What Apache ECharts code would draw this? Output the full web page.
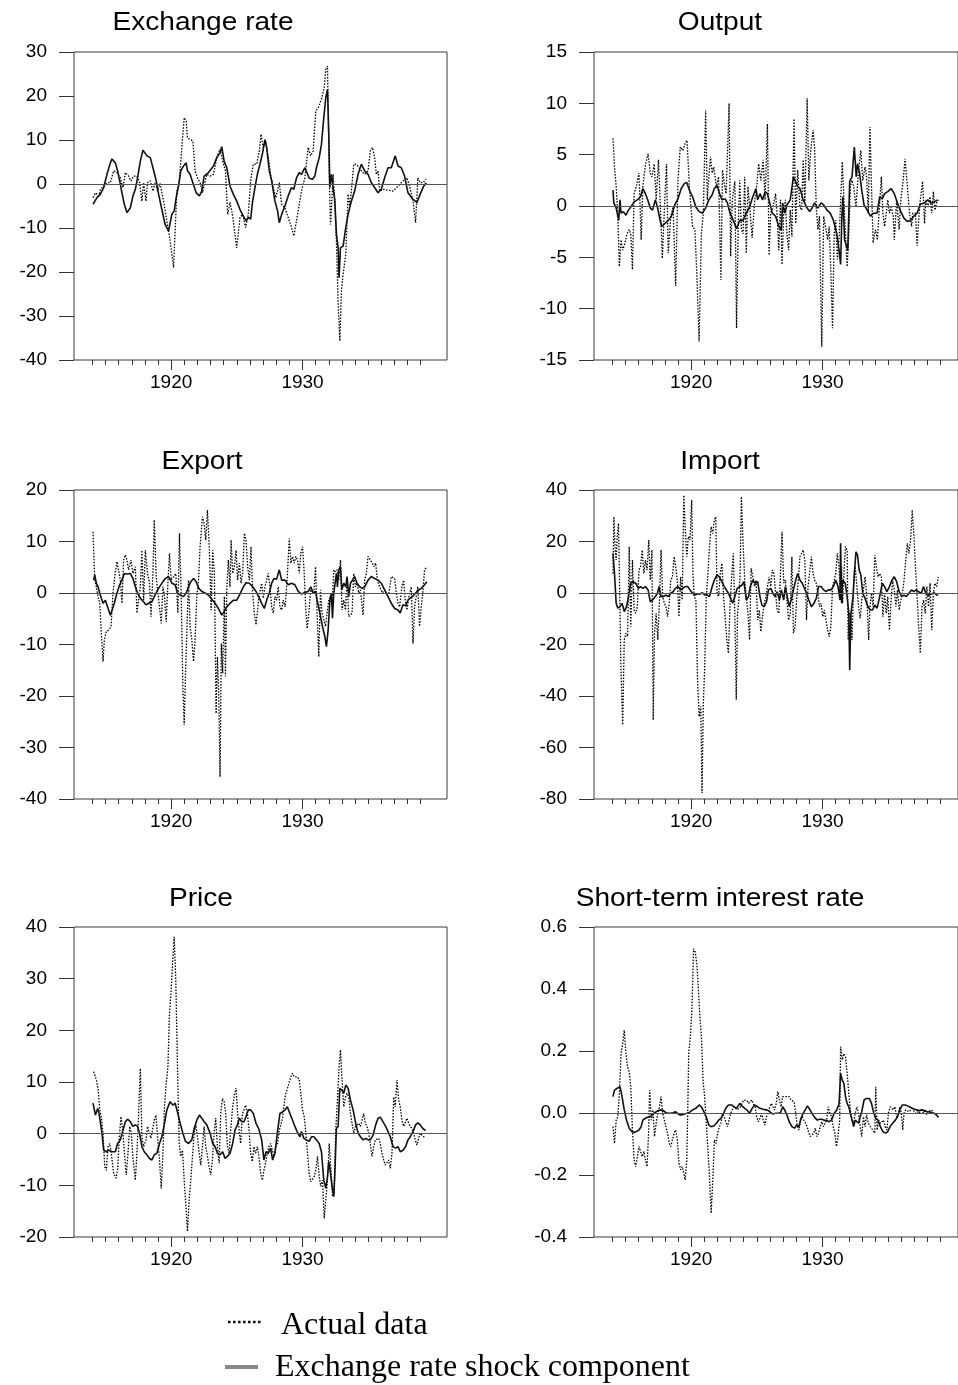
<!DOCTYPE html>
<html>
<head>
<meta charset="utf-8">
<title>Actual data and exchange rate shock component</title>
<script src="https://cdn.jsdelivr.net/npm/echarts@6/dist/echarts.min.js"></script>
<style>
  html, body { margin: 0; padding: 0; background: #fff; }
  #chart { width: 958px; height: 1385px; }
</style>
</head>
<body>
<div id="chart"></div>
<script>
// ---- Exchange rate ----
var erActual = [[1914.05,-3.1],[1914.23,-2.0],[1914.48,-2.7],[1914.61,-1.2],[1914.86,-0.5],[1915.11,0.3],[1915.37,0.3],[1915.62,3.0],[1915.87,2.6],[1916.13,1.4],[1916.33,-0.8],[1916.51,2.6],[1916.76,1.8],[1916.94,0.7],[1917.14,1.8],[1917.39,1.8],[1917.59,0.3],[1917.77,-3.9],[1917.90,0.3],[1918.08,-3.9],[1918.20,0.3],[1918.41,0.7],[1918.61,-1.6],[1918.78,0.3],[1918.96,-1.6],[1919.16,0.1],[1919.42,-3.9],[1919.67,-8.4],[1919.92,-12.9],[1920.18,-19.0],[1920.43,-1.6],[1920.61,0.3],[1920.81,8.3],[1920.99,15.1],[1921.14,14.3],[1921.24,10.5],[1921.44,10.1],[1921.65,9.8],[1921.82,3.0],[1922.00,1.4],[1922.20,0.3],[1922.38,-2.0],[1922.51,-1.6],[1922.71,2.2],[1922.96,1.8],[1923.22,2.2],[1923.47,6.0],[1923.72,7.9],[1923.92,5.2],[1924.13,3.0],[1924.30,-6.9],[1924.48,-4.2],[1924.66,-6.9],[1924.99,-14.5],[1925.24,-7.6],[1925.44,-6.9],[1925.67,-9.9],[1925.87,-6.9],[1926.05,0.7],[1926.25,4.5],[1926.51,4.5],[1926.71,7.5],[1926.84,11.3],[1927.01,8.3],[1927.19,9.8],[1927.39,6.0],[1927.57,2.2],[1927.77,-0.8],[1927.97,-3.1],[1928.23,0.3],[1928.41,-4.6],[1928.66,-5.4],[1928.91,-7.6],[1929.16,-9.9],[1929.34,-11.8],[1929.54,-8.4],[1929.75,-4.6],[1929.92,-1.6],[1930.18,1.4],[1930.43,8.3],[1930.61,6.4],[1930.81,7.5],[1931.01,16.6],[1931.19,17.3],[1931.44,19.2],[1931.65,21.9],[1931.77,26.0],[1931.90,26.8],[1932.03,2.2],[1932.13,-9.2],[1932.23,-3.9],[1932.33,2.2],[1932.46,-3.9],[1932.58,-12.9],[1932.71,-27.0],[1932.84,-35.7],[1932.96,-24.3],[1933.09,-20.5],[1933.29,-16.0],[1933.47,-2.3],[1933.59,-5.0],[1933.72,-1.6],[1933.90,4.5],[1934.10,4.5],[1934.30,3.7],[1934.48,3.0],[1934.73,2.2],[1934.99,3.0],[1935.16,7.5],[1935.32,8.3],[1935.49,6.0],[1935.62,2.2],[1935.75,3.0],[1935.87,-1.6],[1936.13,-1.2],[1936.51,-1.4],[1936.89,-1.6],[1937.27,-0.5],[1937.65,0.7],[1937.95,1.4],[1938.15,-0.5],[1938.41,-3.9],[1938.61,-8.8],[1938.78,1.4],[1938.96,0.3],[1939.16,0.3],[1939.42,1.1]];
var erShock = [[1914.05,-4.6],[1914.35,-3.1],[1914.61,-2.3],[1914.86,-0.8],[1915.11,2.2],[1915.37,4.8],[1915.49,5.7],[1915.75,4.8],[1915.92,3.0],[1916.08,0.7],[1916.25,-2.0],[1916.43,-4.6],[1916.63,-6.5],[1916.89,-5.4],[1917.09,-2.7],[1917.27,-1.2],[1917.44,1.4],[1917.65,5.2],[1917.85,7.7],[1918.15,6.4],[1918.41,6.0],[1918.61,3.7],[1918.86,0.7],[1919.04,-2.3],[1919.29,-5.8],[1919.54,-9.2],[1919.80,-10.7],[1920.05,-6.9],[1920.23,-6.1],[1920.38,-3.1],[1920.56,-0.5],[1920.73,3.0],[1920.94,4.1],[1921.14,4.8],[1921.24,3.0],[1921.44,2.2],[1921.65,0.3],[1921.90,-2.0],[1922.15,-2.7],[1922.33,-1.6],[1922.51,1.8],[1922.84,2.6],[1923.22,4.1],[1923.47,6.0],[1923.72,7.1],[1923.85,8.5],[1924.03,5.2],[1924.23,3.7],[1924.48,-0.5],[1924.73,-2.3],[1924.99,-3.9],[1925.24,-5.8],[1925.49,-7.3],[1925.70,-8.4],[1925.87,-7.6],[1926.05,-8.0],[1926.20,-3.9],[1926.38,-0.8],[1926.56,2.2],[1926.76,4.5],[1926.96,7.1],[1927.14,10.1],[1927.27,8.3],[1927.47,3.0],[1927.65,0.7],[1927.90,-3.9],[1928.10,-6.1],[1928.23,-8.8],[1928.41,-6.9],[1928.66,-5.0],[1928.91,-2.7],[1929.16,-0.8],[1929.34,-1.2],[1929.54,1.4],[1929.75,2.6],[1929.92,2.2],[1930.18,3.7],[1930.30,4.1],[1930.51,1.3],[1930.76,1.1],[1930.94,1.8],[1931.06,3.7],[1931.27,6.0],[1931.44,9.0],[1931.62,15.1],[1931.77,19.6],[1931.90,21.5],[1932.00,11.3],[1932.08,-0.8],[1932.20,2.2],[1932.33,2.2],[1932.46,-3.9],[1932.58,-11.4],[1932.71,-14.5],[1932.78,-21.3],[1932.89,-14.5],[1933.09,-14.1],[1933.29,-9.9],[1933.47,-6.9],[1933.72,-3.9],[1933.97,-1.6],[1934.23,2.2],[1934.48,4.5],[1934.73,3.0],[1934.99,2.2],[1935.24,0.3],[1935.49,-0.8],[1935.75,-2.0],[1936.00,-1.2],[1936.25,1.4],[1936.51,3.7],[1936.76,3.7],[1937.06,6.4],[1937.27,4.1],[1937.52,3.7],[1937.77,1.8],[1938.03,-2.0],[1938.41,-3.5],[1938.71,-4.2],[1938.96,-2.3],[1939.22,-0.5],[1939.42,0.3]];

// ---- Output ----
var outActual = [[1914.08,6.6],[1914.20,3.8],[1914.33,1.9],[1914.46,-1],[1914.58,-5.9],[1914.71,-3.3],[1914.84,-4.3],[1915.02,-3.6],[1915.17,-2.7],[1915.35,-2.3],[1915.47,-2.7],[1915.60,-6.2],[1915.73,1.2],[1915.90,1.9],[1916.11,3.2],[1916.28,-3.3],[1916.41,1.9],[1916.61,4],[1916.82,5.1],[1916.99,3.2],[1917.12,2.85],[1917.30,4.1],[1917.45,0.6],[1917.63,4.5],[1917.76,0.6],[1917.93,-5.1],[1918.09,-0.4],[1918.26,4.1],[1918.39,-4.6],[1918.59,-1],[1918.77,-0.1],[1918.97,-7.8],[1919.15,2.5],[1919.33,5.75],[1919.53,5.4],[1919.71,6.1],[1919.86,6.4],[1920.04,1.9],[1920.29,-2],[1920.47,-2.3],[1920.62,-6.5],[1920.80,-13.2],[1920.98,-2.7],[1921.13,-0.7],[1921.31,9.3],[1921.44,0.6],[1921.56,2.85],[1921.69,4.8],[1921.82,3.2],[1921.94,3.8],[1922.15,1.9],[1922.32,2.85],[1922.50,-7.2],[1922.63,3.5],[1922.76,2.2],[1922.91,1.2],[1923.14,10],[1923.26,-4.9],[1923.39,0.6],[1923.59,2.4],[1923.72,-11.9],[1923.85,-2],[1923.97,2.5],[1924.10,-2.3],[1924.23,-2.7],[1924.36,2.85],[1924.48,-4.6],[1924.61,1.9],[1924.79,-0.7],[1924.94,-3.1],[1925.12,0.3],[1925.29,1.9],[1925.45,4.1],[1925.62,2.5],[1925.80,4.5],[1925.95,0.6],[1926.13,8],[1926.26,-4.8],[1926.39,-0.7],[1926.56,-0.1],[1926.77,1.2],[1926.89,-1],[1927.02,-4.3],[1927.15,0.6],[1927.27,-5.7],[1927.40,-0.7],[1927.53,0.6],[1927.65,-2.7],[1927.78,-4.3],[1927.91,-0.4],[1928.04,-3],[1928.21,8.5],[1928.34,-1.7],[1928.49,3.5],[1928.67,-0.1],[1928.80,-0.4],[1928.92,4.5],[1929.05,0.3],[1929.23,10.5],[1929.36,2.5],[1929.51,5.4],[1929.69,7.4],[1929.81,5.75],[1929.94,-0.1],[1930.07,-2.3],[1930.19,-1],[1930.37,-13.7],[1930.52,-1],[1930.70,-2.3],[1930.83,-3.3],[1930.95,-2],[1931.08,-6.5],[1931.21,-11.9],[1931.34,-2.7],[1931.46,-1.4],[1931.59,-5.2],[1931.72,-3.3],[1931.84,-3.3],[1931.97,4.3],[1932.10,0.6],[1932.22,-2.7],[1932.35,-5.9],[1932.48,-2.7],[1932.60,1.9],[1932.73,2.5],[1932.86,1.9],[1933.04,-0.1],[1933.24,3.5],[1933.42,5.4],[1933.57,2.5],[1933.75,3.8],[1933.87,2.85],[1934.00,-0.7],[1934.13,7.7],[1934.25,1.9],[1934.38,-3.6],[1934.56,-2.3],[1934.71,-3.3],[1934.84,-0.7],[1935.02,2.85],[1935.14,-0.7],[1935.27,-2],[1935.40,-0.7],[1935.52,0.6],[1935.65,-0.7],[1935.78,-0.1],[1935.95,-1],[1936.03,-3.3],[1936.21,0.6],[1936.41,-2.3],[1936.54,0.6],[1936.72,2.5],[1936.87,4.6],[1937.05,1.9],[1937.22,-0.7],[1937.38,-2],[1937.48,-0.7],[1937.68,-0.7],[1937.81,-3.9],[1937.93,-1.4],[1938.06,0.6],[1938.24,2.4],[1938.39,-1.7],[1938.49,0.6],[1938.64,-0.1],[1938.82,0.9],[1938.95,-0.7],[1939.08,1.4],[1939.20,-0.4],[1939.33,0.3],[1939.46,0.6]];
var outShock = [[1914.08,1.55],[1914.15,0.3],[1914.33,-0.2],[1914.53,-1.4],[1914.63,0.6],[1914.71,-0.7],[1914.89,-0.55],[1915.09,-0.9],[1915.29,-0.4],[1915.47,-0.1],[1915.73,0.4],[1915.98,0.6],[1916.23,0.9],[1916.41,1.7],[1916.61,1.2],[1916.79,0.6],[1916.99,-0.2],[1917.17,-0.4],[1917.38,0.6],[1917.55,-0.1],[1917.76,-1.4],[1917.88,-2.0],[1918.14,-1.7],[1918.39,-1.4],[1918.64,-1.0],[1918.90,0.1],[1919.15,0.7],[1919.41,1.7],[1919.66,2.2],[1919.84,2.3],[1920.04,1.55],[1920.29,0.9],[1920.55,-0.1],[1920.80,-0.55],[1921.06,-0.7],[1921.31,-0.2],[1921.56,0.6],[1921.82,1.1],[1921.99,1.7],[1922.20,2.0],[1922.40,1.2],[1922.58,0.6],[1922.83,0.7],[1923.01,0.3],[1923.21,-0.7],[1923.47,-1.4],[1923.72,-2.2],[1923.97,-1.4],[1924.23,-1.4],[1924.48,-0.7],[1924.74,-0.1],[1924.99,0.9],[1925.24,1.7],[1925.37,0.6],[1925.55,1.2],[1925.75,0.6],[1925.95,1.4],[1926.13,1.2],[1926.31,0.3],[1926.51,-0.7],[1926.77,-1.0],[1927.02,-2.0],[1927.22,-2.3],[1927.32,0.3],[1927.48,-0.7],[1927.65,0.1],[1927.91,0.6],[1928.16,2.85],[1928.29,2.5],[1928.49,1.9],[1928.67,1.7],[1928.92,0.6],[1929.18,-0.1],[1929.43,-0.55],[1929.61,-0.2],[1929.81,0.3],[1930.07,-0.2],[1930.32,0.3],[1930.52,0.1],[1930.78,-0.4],[1931.03,-0.7],[1931.28,-1.4],[1931.54,-2.7],[1931.72,-4.3],[1931.84,-5.7],[1931.94,-1.0],[1932.02,0.9],[1932.15,-3.3],[1932.30,-3.3],[1932.40,-4.3],[1932.55,2.4],[1932.73,2.85],[1932.91,5.75],[1933.06,2.85],[1933.16,4.1],[1933.31,3.3],[1933.49,1.55],[1933.67,0.1],[1933.92,-0.4],[1934.18,-1.0],[1934.38,-0.7],[1934.69,-0.7],[1934.89,0.9],[1935.09,0.7],[1935.27,1.2],[1935.52,1.4],[1935.78,1.7],[1936.03,1.2],[1936.28,0.3],[1936.54,-0.55],[1936.79,-1.2],[1937.05,-1.5],[1937.30,-1.4],[1937.55,-1.0],[1937.81,-0.7],[1938.06,0.2],[1938.39,0.3],[1938.64,0.6],[1938.90,0.3],[1939.15,0.4],[1939.41,0.6]];

// ---- Export ----
var expActual = [[1914.05,11.9],[1914.18,2.5],[1914.30,1.2],[1914.43,-0.7],[1914.56,-2],[1914.68,-7.8],[1914.81,-13.3],[1914.91,-9.1],[1915.06,-7.5],[1915.24,-7.2],[1915.42,-6.5],[1915.57,0],[1915.70,3.2],[1915.87,6.1],[1916.00,6.1],[1916.13,2.5],[1916.25,-2],[1916.38,6.4],[1916.51,7.4],[1916.63,6.4],[1916.76,4.5],[1916.94,6.4],[1917.09,3.8],[1917.27,5.1],[1917.39,-3.9],[1917.52,-3.6],[1917.65,1.2],[1917.77,8.3],[1917.90,-1.4],[1918.03,8.3],[1918.20,3.8],[1918.35,1.9],[1918.46,-4.6],[1918.61,3.8],[1918.71,14.2],[1918.86,3.2],[1918.96,0.6],[1919.11,-2.7],[1919.24,-5.9],[1919.37,1.2],[1919.49,-0.7],[1919.62,-5.6],[1919.75,1.9],[1919.87,7.7],[1920.00,2.5],[1920.18,3.2],[1920.35,3.8],[1920.51,-3.9],[1920.63,11.6],[1920.76,0],[1920.89,-18.2],[1920.99,-25.6],[1921.09,-15.6],[1921.19,-7.8],[1921.32,2.5],[1921.44,-6.5],[1921.57,-9.1],[1921.70,-13.3],[1921.82,-9.1],[1921.95,-0.7],[1922.08,2.5],[1922.20,9],[1922.38,14.8],[1922.51,13.5],[1922.63,10.3],[1922.76,16.1],[1922.91,8.3],[1923.04,-3.3],[1923.16,8.3],[1923.29,3.8],[1923.42,-23.4],[1923.52,-12.4],[1923.62,-19.5],[1923.72,-35.7],[1923.82,-9.8],[1923.92,-15.6],[1924.05,-0.7],[1924.13,-16.2],[1924.23,0.6],[1924.35,6.4],[1924.48,1.2],[1924.56,10.3],[1924.68,3.8],[1924.81,5.1],[1924.94,8.3],[1925.06,2.5],[1925.19,5.8],[1925.32,1.9],[1925.44,3.8],[1925.57,11.6],[1925.70,10.3],[1925.82,5.1],[1925.95,2.5],[1926.08,9],[1926.20,0],[1926.33,-3.9],[1926.46,-6.2],[1926.63,-2],[1926.76,0.3],[1926.89,1.9],[1927.01,-1],[1927.14,1.2],[1927.27,1.2],[1927.39,3.8],[1927.52,1.2],[1927.65,-2.7],[1927.77,-3.9],[1927.90,-0.7],[1928.03,-1.4],[1928.15,1.2],[1928.28,-2.7],[1928.41,-3.3],[1928.53,-1.4],[1928.68,-2.7],[1928.84,3.2],[1928.99,10.6],[1929.11,5.8],[1929.24,7.1],[1929.37,5.8],[1929.49,7.1],[1929.62,6.4],[1929.75,3.8],[1929.87,7.7],[1930.00,9],[1930.13,3.8],[1930.25,-3.3],[1930.35,-6.9],[1930.48,-3.9],[1930.61,0.6],[1930.73,0.6],[1930.86,0],[1930.99,5.1],[1931.11,-3.9],[1931.24,-12.4],[1931.37,0.6],[1931.49,-3.9],[1931.62,-5.2],[1931.75,-6.5],[1931.87,-3.9],[1932.00,-1.4],[1932.13,-0.7],[1932.25,-2.7],[1932.38,4.5],[1932.51,4.1],[1932.63,4.5],[1932.76,2.5],[1932.89,6.4],[1933.01,-3.3],[1933.14,-1.4],[1933.27,-3.3],[1933.39,2.5],[1933.52,-4.6],[1933.65,-4.6],[1933.77,-3.9],[1933.90,3.8],[1934.03,1.2],[1934.15,1.9],[1934.28,0],[1934.41,0.6],[1934.61,-4.3],[1934.73,2.5],[1934.86,3.8],[1934.99,7.1],[1935.16,6.4],[1935.32,5.8],[1935.44,5.1],[1935.57,5.8],[1935.70,2.5],[1935.87,1.2],[1936.08,0],[1936.25,0.6],[1936.38,0],[1936.58,0],[1936.76,3.2],[1936.89,3.2],[1937.01,2.8],[1937.14,0],[1937.27,-2],[1937.39,-2.7],[1937.57,1.2],[1937.70,2.5],[1937.82,-1.4],[1937.95,-3.3],[1938.10,-0.7],[1938.28,1.2],[1938.41,-9.8],[1938.53,-2.7],[1938.66,-0.7],[1938.78,1.2],[1938.91,-6.5],[1939.04,-2.7],[1939.16,0],[1939.29,4.5],[1939.47,5.1]];
var expShock = [[1914.10,2.5],[1914.18,3.5],[1914.30,1.9],[1914.43,1.2],[1914.56,0],[1914.68,-1],[1914.81,-2],[1914.99,-1.4],[1915.16,-2.7],[1915.37,-4.3],[1915.49,-4.1],[1915.67,-2],[1915.87,0],[1916.08,1.6],[1916.25,2.5],[1916.43,3.8],[1916.63,3.7],[1916.89,3.8],[1917.09,2.8],[1917.27,1.2],[1917.44,0],[1917.65,-1],[1917.90,-1.7],[1918.08,-2.3],[1918.28,-2],[1918.53,-1.7],[1918.71,-0.7],[1918.91,0.3],[1919.11,1.2],[1919.37,2.2],[1919.54,2.8],[1919.80,3.2],[1920.05,1.9],[1920.30,1.6],[1920.48,0],[1920.68,-0.4],[1920.94,-0.7],[1921.14,0],[1921.32,1.2],[1921.49,2.2],[1921.70,2.8],[1921.90,2.2],[1922.10,0.9],[1922.33,0.3],[1922.58,0],[1922.84,-0.4],[1923.09,-1.2],[1923.34,-2],[1923.59,-3],[1923.85,-4.3],[1924.03,-3.6],[1924.23,-2.7],[1924.48,-2],[1924.73,-1.4],[1924.99,-1.4],[1925.24,-0.2],[1925.49,1.2],[1925.70,2],[1925.95,1.9],[1926.20,1.2],[1926.46,0.3],[1926.71,-1],[1926.89,-2],[1927.09,-3],[1927.27,-1.4],[1927.47,0],[1927.65,1.9],[1927.82,2.8],[1928.03,2.7],[1928.23,4.5],[1928.41,2.5],[1928.66,2.5],[1928.91,1.6],[1929.16,1.9],[1929.42,1.6],[1929.67,0.3],[1929.92,-0.2],[1930.18,0.1],[1930.43,0.3],[1930.63,1.2],[1930.81,0],[1930.99,0.3],[1931.11,-1.4],[1931.32,-3.9],[1931.52,-6.5],[1931.70,-8.5],[1931.82,-10.4],[1931.95,-7.2],[1932.08,-1.4],[1932.20,0],[1932.28,-4.9],[1932.38,0],[1932.48,1.9],[1932.58,3.8],[1932.66,1.2],[1932.76,4.5],[1932.89,5.1],[1932.99,0.6],[1933.14,1.9],[1933.29,1.2],[1933.39,3.2],[1933.52,-0.7],[1933.65,1.9],[1933.80,2.5],[1933.97,3.2],[1934.15,1.9],[1934.35,1.2],[1934.56,0.9],[1934.73,1.2],[1934.99,2.5],[1935.24,3.2],[1935.49,2.8],[1935.75,2.5],[1936.00,1.9],[1936.25,0.6],[1936.51,-0.7],[1936.76,-2],[1937.01,-3],[1937.27,-3.3],[1937.44,-3.9],[1937.65,-2.3],[1937.85,-2.5],[1938.03,-1.4],[1938.20,-1],[1938.41,-0.6],[1938.61,0],[1938.86,0.6],[1939.04,0.9],[1939.29,1.6],[1939.47,2.2]];

// ---- Import ----
var impActual = [[1914.08,7.6],[1914.15,29.6],[1914.25,16.7],[1914.33,12.8],[1914.41,21.9],[1914.51,27],[1914.58,7.6],[1914.71,-31.2],[1914.84,-51.2],[1914.96,-18.2],[1915.09,-15.6],[1915.22,-16.9],[1915.35,18],[1915.47,-13.1],[1915.60,12.8],[1915.73,-6.6],[1915.85,-7.9],[1915.98,-5.3],[1916.11,8.9],[1916.23,10.2],[1916.36,16.7],[1916.49,7.6],[1916.61,12.8],[1916.74,8.9],[1916.87,20.6],[1916.99,5],[1917.12,16.7],[1917.22,-49.3],[1917.32,-15.6],[1917.45,-7.9],[1917.58,-18.2],[1917.71,-2.7],[1917.83,16.7],[1917.96,-1.4],[1918.09,-4],[1918.21,-5.3],[1918.34,-9.2],[1918.47,-4],[1918.59,5],[1918.72,6.3],[1918.85,14.1],[1918.97,10.2],[1919.10,5],[1919.23,-9.2],[1919.36,6.3],[1919.48,-2.7],[1919.61,38],[1919.71,25.7],[1919.84,14.1],[1919.96,21.9],[1920.09,20.6],[1920.22,36.1],[1920.32,7.6],[1920.42,-1.4],[1920.55,-2.7],[1920.68,-33.8],[1920.80,-48],[1920.93,-44.1],[1921.03,-77.7],[1921.13,-42.8],[1921.23,-29.9],[1921.36,-1.4],[1921.49,7.6],[1921.61,18],[1921.74,25.7],[1921.87,23.1],[1921.99,28.3],[1922.10,29.6],[1922.20,-0.1],[1922.32,-1.4],[1922.45,7.6],[1922.58,11.5],[1922.71,-1.4],[1922.83,-9.2],[1922.96,-18.2],[1923.09,-23.4],[1923.21,-5.3],[1923.34,6.3],[1923.47,15.4],[1923.59,-7.9],[1923.70,-41.5],[1923.80,-7.9],[1923.90,-2.7],[1924.00,7.6],[1924.10,37.4],[1924.23,19.3],[1924.36,5],[1924.48,-1.4],[1924.61,-7.9],[1924.74,-18.2],[1924.86,9.6],[1924.99,6.3],[1925.12,2.5],[1925.24,5],[1925.37,-10.5],[1925.50,-6.6],[1925.62,-15],[1925.75,-9.2],[1925.88,-4],[1926.01,-1.4],[1926.13,-1.4],[1926.26,6.3],[1926.39,2.5],[1926.51,8.9],[1926.64,7.6],[1926.77,-0.1],[1926.89,-6.6],[1927.02,-7.9],[1927.15,7.6],[1927.27,23.8],[1927.40,3.8],[1927.53,5],[1927.65,-2.7],[1927.78,-10.5],[1927.91,-7.9],[1928.04,14.1],[1928.16,-15.6],[1928.29,-13.1],[1928.42,-1.4],[1928.54,5],[1928.67,14.1],[1928.80,14.7],[1928.92,16.7],[1929.05,12.8],[1929.18,-10.5],[1929.30,2.5],[1929.43,2.5],[1929.56,14.1],[1929.69,7.6],[1929.81,5],[1929.94,3.8],[1930.07,-0.1],[1930.19,-5.3],[1930.32,-4],[1930.45,-9.2],[1930.57,-6.6],[1930.70,-10.5],[1930.83,-14.4],[1930.95,-16.9],[1931.08,-13.1],[1931.21,2.5],[1931.34,5],[1931.46,7.6],[1931.59,15.4],[1931.72,10.2],[1931.84,-0.1],[1931.92,10.2],[1931.99,-4],[1932.10,7.6],[1932.22,18],[1932.35,16.7],[1932.43,-18.2],[1932.53,-7.9],[1932.63,-9.2],[1932.73,-18.2],[1932.86,3.8],[1932.98,10.2],[1933.11,2.5],[1933.24,-5.3],[1933.37,-9.8],[1933.49,-2.7],[1933.62,1.2],[1933.75,6.3],[1933.87,-0.1],[1934.03,-18.2],[1934.13,-5.3],[1934.25,-0.1],[1934.38,-5.3],[1934.51,14.7],[1934.63,10.2],[1934.76,6.3],[1934.89,7.6],[1935.02,6.3],[1935.14,-9.2],[1935.27,-0.1],[1935.40,-7.9],[1935.52,-1.4],[1935.65,-14.4],[1935.78,-2.7],[1935.90,5],[1936.03,1.2],[1936.16,-5.3],[1936.28,1.2],[1936.41,-6.6],[1936.54,-2.7],[1936.66,-0.1],[1936.79,5],[1936.92,12.8],[1937.05,19.3],[1937.17,15.4],[1937.30,20.6],[1937.43,32.2],[1937.55,23.1],[1937.68,10.2],[1937.81,-1.4],[1937.93,-13.1],[1938.06,-23.4],[1938.19,-5.3],[1938.31,-2.7],[1938.44,-7.9],[1938.57,2.5],[1938.70,-5.3],[1938.82,3.8],[1938.95,-14.4],[1939.08,-0.1],[1939.20,3.8],[1939.33,2.5],[1939.46,6.3]];
var impShock = [[1914.08,15.4],[1914.20,7.6],[1914.33,-4],[1914.46,-5.9],[1914.63,-5.3],[1914.79,-4],[1914.96,-7.2],[1915.14,-5.3],[1915.29,-1.4],[1915.47,3.8],[1915.65,4.4],[1915.85,3.8],[1916.06,1.8],[1916.23,2.5],[1916.41,1.8],[1916.61,2.5],[1916.82,1.2],[1916.99,-3.4],[1917.17,-2.7],[1917.38,-1.4],[1917.55,-0.1],[1917.68,2.5],[1917.83,-1.4],[1918.01,-1.4],[1918.19,-0.8],[1918.39,-1.4],[1918.59,-0.1],[1918.77,0.5],[1918.95,1.8],[1919.15,2.5],[1919.36,1.2],[1919.53,1.8],[1919.71,2.5],[1919.91,2.5],[1920.09,1.2],[1920.29,-0.1],[1920.47,-0.8],[1920.68,-0.4],[1920.85,-0.4],[1921.06,0.1],[1921.23,-0.8],[1921.44,-0.8],[1921.61,-1.4],[1921.82,2.5],[1921.99,5],[1922.20,7],[1922.38,6.3],[1922.58,4.4],[1922.76,2.5],[1922.91,3.1],[1923.09,-0.1],[1923.26,-2.1],[1923.42,-4],[1923.59,-1.4],[1923.77,1.8],[1923.97,2.5],[1924.15,3.1],[1924.30,4.4],[1924.48,-2.7],[1924.66,-1.4],[1924.79,2.5],[1924.99,5],[1925.17,3.8],[1925.37,4.4],[1925.55,-1.4],[1925.70,-4.7],[1925.88,-5.3],[1926.06,-3.4],[1926.21,1.2],[1926.39,1.8],[1926.56,-0.1],[1926.72,-1.4],[1926.89,0.5],[1927.07,-2.7],[1927.22,1.2],[1927.40,-2.7],[1927.53,2.5],[1927.65,1.8],[1927.83,-5.3],[1927.98,-2.7],[1928.16,1.2],[1928.34,5],[1928.49,7.6],[1928.67,5],[1928.85,3.8],[1929.00,3.8],[1929.18,-0.1],[1929.36,-2.7],[1929.56,-5.3],[1929.76,-4],[1929.94,-2.1],[1930.12,2.5],[1930.32,2.5],[1930.52,1.2],[1930.70,0.5],[1930.88,1.2],[1931.08,1.2],[1931.28,2.5],[1931.46,5],[1931.64,2.5],[1931.79,-2.7],[1931.84,19.3],[1931.92,-4],[1931.99,5],[1932.10,5.7],[1932.20,3.8],[1932.35,-1.4],[1932.48,-7.9],[1932.55,-29.9],[1932.65,-7.9],[1932.81,-1.4],[1932.91,7.6],[1933.04,16],[1933.16,14.7],[1933.29,8.9],[1933.42,7],[1933.57,-0.1],[1933.75,-2.1],[1933.92,-4.7],[1934.13,-6.6],[1934.33,-6.6],[1934.51,-4.7],[1934.69,-5.9],[1934.89,-1.4],[1935.09,3.8],[1935.27,2.5],[1935.45,0.5],[1935.65,2.5],[1935.85,5],[1936.03,6.3],[1936.21,4.4],[1936.41,0.5],[1936.61,-1.4],[1936.79,-0.8],[1936.97,-1.4],[1937.17,-0.1],[1937.38,1.2],[1937.55,0.5],[1937.73,1.2],[1937.93,0.5],[1938.14,-0.1],[1938.31,2.5],[1938.49,-0.1],[1938.70,-0.8],[1938.90,-0.4],[1939.15,0.1],[1939.33,-0.8],[1939.46,-0.9]];

// ---- Price ----
var priceActual = [[1914.10,12],[1914.30,10.4],[1914.43,8.8],[1914.56,4.6],[1914.68,3.3],[1914.81,0.1],[1914.94,-6.4],[1915.06,-7.1],[1915.19,-2.5],[1915.32,-1.9],[1915.44,-3.8],[1915.62,-7.7],[1915.80,-8.6],[1915.92,-7.1],[1916.05,-0.6],[1916.18,3.3],[1916.33,0.1],[1916.46,-4.4],[1916.58,-8],[1916.71,-3.8],[1916.84,1.4],[1916.96,0.1],[1917.09,-4.8],[1917.27,-9],[1917.39,-3.8],[1917.52,3.9],[1917.65,12.6],[1917.77,-0.6],[1917.90,-2.5],[1918.08,-1.2],[1918.20,1.4],[1918.33,0.1],[1918.46,-0.9],[1918.58,0.7],[1918.71,2.6],[1918.84,3.6],[1918.96,-0.6],[1919.11,-5.1],[1919.24,-10.6],[1919.37,-3.8],[1919.49,5.2],[1919.62,9.7],[1919.75,12.9],[1919.87,23.2],[1920.00,27.8],[1920.13,34.2],[1920.23,38.1],[1920.35,29.7],[1920.48,12.9],[1920.61,-1.9],[1920.73,-4.4],[1920.86,-3.2],[1920.99,-9],[1921.11,-13.5],[1921.24,-18.9],[1921.37,-12.8],[1921.49,-9],[1921.62,-4.4],[1921.75,0.1],[1921.87,1.7],[1922.00,-0.6],[1922.13,-3.8],[1922.25,-6.1],[1922.38,-2.5],[1922.51,1.4],[1922.63,-2.5],[1922.76,-4.4],[1922.89,-6.4],[1923.01,-8],[1923.14,-5.1],[1923.27,0.1],[1923.39,3],[1923.52,-2.5],[1923.65,-5.7],[1923.77,3.9],[1923.90,6.8],[1924.03,6.2],[1924.15,3.9],[1924.28,-2.5],[1924.41,-3.8],[1924.53,0.7],[1924.66,4.6],[1924.81,7.5],[1924.94,8.8],[1925.06,3.9],[1925.19,0.1],[1925.29,-1.9],[1925.42,3.9],[1925.54,4.6],[1925.67,5.5],[1925.80,3.9],[1925.92,1],[1926.05,-3.8],[1926.18,-5.4],[1926.30,-2.5],[1926.43,-3.8],[1926.56,-2.5],[1926.68,-4.4],[1926.81,-7.7],[1926.94,-9],[1927.06,-7.1],[1927.19,-5.7],[1927.32,-3.8],[1927.44,-2.5],[1927.57,-1.9],[1927.70,-3.2],[1927.82,-4.4],[1927.97,-2.5],[1928.10,-1.9],[1928.23,0.7],[1928.35,1.7],[1928.48,3],[1928.61,5.9],[1928.73,7.8],[1928.86,8.8],[1928.99,10],[1929.11,11],[1929.24,11.7],[1929.37,11],[1929.49,11.3],[1929.62,11],[1929.75,10.4],[1929.87,7.8],[1930.00,4.6],[1930.13,3.3],[1930.25,0.1],[1930.38,-3.8],[1930.51,-7.7],[1930.63,-9.3],[1930.76,-9.6],[1930.89,-8.3],[1931.01,-7.1],[1931.14,-4.4],[1931.27,-8.3],[1931.39,-10.2],[1931.52,-9],[1931.65,-16.4],[1931.77,-16.4],[1931.90,-9],[1932.03,-1.9],[1932.15,-6.4],[1932.28,-12.2],[1932.41,-11.5],[1932.53,0.7],[1932.66,6.5],[1932.78,12.9],[1932.89,16.2],[1933.01,10.4],[1933.14,5.2],[1933.27,7.1],[1933.39,7.8],[1933.52,7.1],[1933.65,3.9],[1933.77,2],[1933.90,0.1],[1934.03,1.4],[1934.15,1.4],[1934.28,2],[1934.41,1.4],[1934.53,2.6],[1934.66,3.9],[1934.78,2],[1934.91,1.4],[1935.04,0.1],[1935.16,-1.9],[1935.29,-4.4],[1935.42,-2.5],[1935.54,-1.2],[1935.67,-0.9],[1935.80,-0.9],[1935.92,-1.9],[1936.05,-3.8],[1936.18,-5.1],[1936.30,-6.1],[1936.43,-6.4],[1936.56,-5.1],[1936.68,-6.7],[1936.81,-3.8],[1936.94,7.1],[1937.06,5.2],[1937.19,10.4],[1937.32,6.5],[1937.44,5.2],[1937.57,2.6],[1937.70,1.4],[1937.82,1.4],[1937.95,3],[1938.08,2],[1938.20,1.4],[1938.33,1],[1938.46,0.1],[1938.58,-1.2],[1938.71,-2.2],[1938.84,-0.9],[1938.96,0.1],[1939.09,-0.3],[1939.22,-0.6],[1939.37,-0.9]];
var priceShock = [[1914.05,5.9],[1914.23,3.6],[1914.41,4.9],[1914.51,3.9],[1914.61,3.9],[1914.73,0.1],[1914.86,-3.2],[1915.06,-3.5],[1915.24,-3.2],[1915.49,-3.5],[1915.75,-3.5],[1915.92,-1.9],[1916.13,-1.2],[1916.33,0.7],[1916.51,2.3],[1916.68,2.8],[1916.89,2.3],[1917.09,1.4],[1917.27,1.7],[1917.44,1.4],[1917.59,0.1],[1917.77,-2.5],[1917.95,-3.5],[1918.15,-4.1],[1918.35,-4.8],[1918.53,-5.1],[1918.71,-4.1],[1918.91,-3.8],[1919.11,-1.9],[1919.29,-0.6],[1919.47,1.7],[1919.67,4.6],[1919.92,6.2],[1920.13,5.5],[1920.30,5.9],[1920.48,4.2],[1920.68,2],[1920.89,0.1],[1921.09,-1.5],[1921.32,-1.9],[1921.57,-1.2],[1921.75,1],[1921.95,2.6],[1922.15,3.6],[1922.33,3],[1922.51,2.3],[1922.71,1.7],[1922.96,0.1],[1923.16,-1.9],[1923.34,-2.5],[1923.52,-3.8],[1923.72,-4.1],[1923.92,-3.5],[1924.10,-4.8],[1924.28,-4.4],[1924.48,-3.8],[1924.68,-1.9],[1924.86,0.7],[1925.04,1.7],[1925.19,3],[1925.37,2.3],[1925.54,2.3],[1925.70,3.3],[1925.87,4.6],[1926.05,4.6],[1926.25,3.9],[1926.46,2],[1926.66,1],[1926.89,-1.2],[1927.06,-5.1],[1927.22,-3.5],[1927.39,-3.8],[1927.57,-2.8],[1927.72,-5.1],[1927.90,-3.8],[1928.08,0.1],[1928.28,3.9],[1928.48,4.2],[1928.68,4.6],[1928.84,5.2],[1929.04,3.9],[1929.24,2.6],[1929.42,1.4],[1929.59,0.4],[1929.80,-0.6],[1929.92,0.4],[1930.10,-0.9],[1930.30,-1.2],[1930.51,-1.5],[1930.68,-0.6],[1930.86,-0.6],[1931.06,-1.2],[1931.27,-1.9],[1931.44,-3.5],[1931.62,-9],[1931.77,-10.6],[1931.90,-8.3],[1932.00,-5.4],[1932.13,-7.7],[1932.25,-10.2],[1932.38,-12.2],[1932.48,-6.4],[1932.58,1],[1932.71,1.4],[1932.84,8.8],[1932.99,8.4],[1933.14,7.8],[1933.29,9.4],[1933.47,8.8],[1933.65,6.5],[1933.85,4.6],[1934.05,2],[1934.23,0.1],[1934.41,-0.6],[1934.61,-1.2],[1934.81,-0.9],[1934.99,-1.2],[1935.16,-1.2],[1935.37,-0.3],[1935.57,1.7],[1935.75,3],[1935.92,3.2],[1936.13,2.3],[1936.33,1.4],[1936.51,0.4],[1936.68,-0.6],[1936.89,-2.5],[1937.09,-2.8],[1937.27,-2.5],[1937.44,-3.5],[1937.65,-3.2],[1937.85,-2.5],[1938.03,-1.2],[1938.20,-0.6],[1938.41,0.4],[1938.61,1.7],[1938.78,2.1],[1938.96,1.7],[1939.16,1],[1939.37,0.6]];

// ---- Short-term interest rate ----
var irActual = [[1914.08,-0.044],[1914.20,-0.098],[1914.33,-0.023],[1914.46,-0.012],[1914.58,0.063],[1914.71,0.192],[1914.84,0.224],[1914.96,0.267],[1915.09,0.192],[1915.22,0.149],[1915.35,0.133],[1915.47,0.085],[1915.60,-0.055],[1915.73,-0.151],[1915.85,-0.173],[1915.98,-0.141],[1916.11,-0.108],[1916.23,-0.114],[1916.36,-0.141],[1916.49,-0.124],[1916.61,-0.151],[1916.74,-0.173],[1916.87,-0.055],[1916.94,0.074],[1917.07,-0.023],[1917.20,0.01],[1917.32,-0.076],[1917.45,-0.033],[1917.58,-0.001],[1917.71,0.02],[1917.83,0.053],[1917.96,-0.001],[1918.09,-0.023],[1918.21,-0.044],[1918.34,-0.065],[1918.47,-0.098],[1918.59,-0.108],[1918.72,-0.108],[1918.85,-0.065],[1918.97,-0.055],[1919.10,-0.087],[1919.23,-0.162],[1919.36,-0.183],[1919.48,-0.173],[1919.61,-0.194],[1919.71,-0.216],[1919.84,-0.151],[1919.91,-0.001],[1919.99,0.192],[1920.12,0.246],[1920.24,0.332],[1920.37,0.53],[1920.50,0.519],[1920.62,0.482],[1920.75,0.396],[1920.88,0.299],[1920.98,0.246],[1921.11,0.106],[1921.23,0.053],[1921.36,-0.033],[1921.49,-0.119],[1921.61,-0.205],[1921.74,-0.323],[1921.87,-0.216],[1921.99,-0.087],[1922.12,-0.098],[1922.25,-0.065],[1922.38,-0.044],[1922.50,-0.033],[1922.63,-0.001],[1922.76,-0.012],[1922.88,-0.028],[1923.01,-0.044],[1923.14,-0.023],[1923.26,-0.001],[1923.39,0.01],[1923.52,0.02],[1923.64,0.02],[1923.77,0.01],[1923.90,0.01],[1924.03,0.02],[1924.15,0.031],[1924.28,0.042],[1924.41,0.036],[1924.53,0.04],[1924.66,0.031],[1924.79,0.036],[1924.91,0.042],[1925.04,0.029],[1925.17,0.02],[1925.29,-0.012],[1925.42,-0.028],[1925.55,-0.017],[1925.68,-0.001],[1925.80,-0.023],[1925.93,-0.039],[1926.06,-0.012],[1926.18,-0.001],[1926.31,0.02],[1926.44,0.031],[1926.56,0.02],[1926.69,0.01],[1926.82,0.031],[1926.94,0.069],[1927.07,0.042],[1927.20,0.02],[1927.32,0.053],[1927.45,0.058],[1927.58,0.053],[1927.71,0.047],[1927.83,0.053],[1927.96,0.042],[1928.09,0.042],[1928.21,0.036],[1928.34,-0.001],[1928.47,-0.044],[1928.59,-0.055],[1928.72,-0.023],[1928.85,-0.012],[1928.97,-0.023],[1929.10,-0.033],[1929.23,-0.044],[1929.36,-0.065],[1929.48,-0.076],[1929.61,-0.082],[1929.74,-0.065],[1929.86,-0.049],[1929.99,-0.076],[1930.12,-0.065],[1930.24,-0.044],[1930.37,-0.028],[1930.50,-0.044],[1930.62,-0.033],[1930.75,-0.023],[1930.88,0.02],[1931.01,-0.001],[1931.13,-0.012],[1931.26,-0.044],[1931.39,-0.065],[1931.51,-0.108],[1931.64,-0.076],[1931.77,-0.023],[1931.84,0.214],[1931.97,0.171],[1932.10,0.192],[1932.22,0.181],[1932.35,0.128],[1932.48,0.063],[1932.60,0.01],[1932.73,-0.023],[1932.86,-0.033],[1932.98,-0.001],[1933.11,0.02],[1933.24,-0.001],[1933.37,-0.044],[1933.49,-0.076],[1933.62,-0.012],[1933.75,-0.044],[1933.87,-0.006],[1934.00,-0.033],[1934.13,-0.039],[1934.25,-0.049],[1934.38,-0.044],[1934.51,-0.065],[1934.58,0.085],[1934.69,-0.055],[1934.81,-0.023],[1934.94,-0.033],[1935.07,-0.039],[1935.19,-0.023],[1935.32,-0.044],[1935.45,-0.055],[1935.57,-0.001],[1935.70,0.02],[1935.83,0.015],[1935.95,0.01],[1936.08,0.02],[1936.21,-0.012],[1936.34,-0.001],[1936.46,0.02],[1936.59,-0.001],[1936.69,-0.055],[1936.79,-0.001],[1936.92,0.01],[1937.05,0.012],[1937.17,0.004],[1937.30,0.01],[1937.43,0.015],[1937.55,0.01],[1937.68,-0.001],[1937.81,0.01],[1937.93,-0.001],[1938.06,-0.006],[1938.19,0.01],[1938.31,-0.001],[1938.44,0.01],[1938.57,-0.006],[1938.70,0.004],[1938.82,-0.001],[1938.95,0.01],[1939.08,-0.001],[1939.20,0.004],[1939.33,-0.006],[1939.46,-0.012]];
var irShock = [[1914.08,0.053],[1914.20,0.074],[1914.38,0.079],[1914.53,0.074],[1914.63,0.085],[1914.79,0.053],[1914.96,0.01],[1915.14,-0.023],[1915.35,-0.049],[1915.55,-0.06],[1915.73,-0.063],[1915.90,-0.06],[1916.11,-0.055],[1916.28,-0.044],[1916.41,-0.023],[1916.61,-0.017],[1916.87,-0.012],[1917.07,-0.01],[1917.25,-0.001],[1917.45,0.004],[1917.63,0.008],[1917.83,0.01],[1918.01,0.008],[1918.21,0.001],[1918.39,-0.001],[1918.59,-0.001],[1918.77,0.001],[1918.95,0.004],[1919.10,-0.001],[1919.28,-0.006],[1919.46,-0.006],[1919.66,-0.003],[1919.86,-0.001],[1920.04,0.002],[1920.29,0.01],[1920.55,0.015],[1920.80,0.026],[1920.98,0.02],[1921.18,0.004],[1921.39,-0.017],[1921.56,-0.039],[1921.74,-0.044],[1921.94,-0.042],[1922.15,-0.033],[1922.32,-0.023],[1922.50,-0.017],[1922.71,-0.001],[1922.88,0.015],[1923.09,0.026],[1923.34,0.026],[1923.52,0.02],[1923.72,0.015],[1923.97,0.031],[1924.15,0.023],[1924.36,0.015],[1924.53,0.01],[1924.74,-0.001],[1924.94,0.015],[1925.12,0.026],[1925.37,0.02],[1925.55,0.015],[1925.80,0.012],[1926.01,0.01],[1926.21,0.008],[1926.39,0.001],[1926.56,-0.003],[1926.77,-0.001],[1926.97,-0.001],[1927.15,0.001],[1927.32,0.02],[1927.48,0.01],[1927.65,-0.006],[1927.83,-0.028],[1928.04,-0.044],[1928.24,-0.049],[1928.42,-0.039],[1928.59,-0.044],[1928.75,-0.017],[1928.92,-0.001],[1929.10,0.012],[1929.25,0.023],[1929.43,0.012],[1929.61,-0.001],[1929.81,-0.014],[1930.02,-0.023],[1930.19,-0.02],[1930.37,-0.02],[1930.57,-0.023],[1930.78,-0.025],[1930.95,-0.028],[1931.13,-0.023],[1931.34,-0.001],[1931.54,0.01],[1931.72,0.029],[1931.84,0.128],[1931.97,0.106],[1932.10,0.095],[1932.22,0.053],[1932.35,0.031],[1932.48,0.02],[1932.60,-0.001],[1932.73,-0.023],[1932.86,-0.044],[1932.98,-0.023],[1933.11,-0.028],[1933.24,-0.033],[1933.37,-0.012],[1933.49,0.004],[1933.67,0.042],[1933.87,0.047],[1934.08,0.047],[1934.25,0.031],[1934.43,-0.001],[1934.58,-0.017],[1934.76,-0.023],[1934.94,-0.044],[1935.14,-0.06],[1935.35,-0.065],[1935.52,-0.06],[1935.70,-0.044],[1935.90,-0.033],[1936.11,-0.023],[1936.28,-0.012],[1936.46,0.01],[1936.66,0.026],[1936.87,0.026],[1937.05,0.023],[1937.22,0.02],[1937.43,0.015],[1937.63,0.012],[1937.81,0.01],[1937.98,0.008],[1938.19,0.01],[1938.39,0.008],[1938.57,0.004],[1938.75,0.004],[1938.95,0.001],[1939.15,-0.001],[1939.33,-0.006],[1939.46,-0.014]];

var panelTitles = ['Exchange rate', 'Output', 'Export', 'Import', 'Price', 'Short-term interest rate'];
var actualSeries = [erActual, outActual, expActual, impActual, priceActual, irActual];
var shockSeries = [erShock, outShock, expShock, impShock, priceShock, irShock];
var yMin = [-40, -15, -40, -80, -20, -0.4];
var yMax = [30, 15, 20, 40, 40, 0.6];
var yStep = [10, 5, 10, 20, 10, 0.2];

var FONT = '"Liberation Sans", Arial, Helvetica, sans-serif';
var SERIF = '"Liberation Serif", "Times New Roman", serif';

// plot boxes: left, top, height (all 373 px wide, time range 1912.6 - 1941.0)
var boxes = [[74, 52, 308], [594, 52, 308], [74, 490, 309], [594, 490, 309], [74, 927, 310], [594, 927, 310]];
var titlePos = [[203, 23], [720, 23], [202, 462], [720, 462], [201, 899], [720, 899]];
var pxPerYear = 373 / 28.4;

var grids = [], xAxes = [], yAxes = [], series = [], graphics = [];

function hiddenY(g) {
  return { type: 'value', gridIndex: g, min: 0, max: 1, show: false };
}

for (var i = 0; i < 6; i++) {
  var b = boxes[i];
  // main plot grid (box + data)
  grids.push({
    left: b[0], top: b[1], width: 373, height: b[2],
    show: true, borderColor: '#3a3a3a', borderWidth: 1, backgroundColor: 'transparent'
  });
  xAxes.push({ type: 'value', gridIndex: i, min: 1912.6, max: 1941.0, show: false });
  yAxes.push({
    type: 'value', gridIndex: i,
    min: yMin[i], max: yMax[i], interval: yStep[i],
    axisLine: { show: false },
    splitLine: { show: false },
    axisTick: { show: true, length: 15, lineStyle: { color: '#333', width: 1 } },
    axisLabel: {
      margin: 27, fontSize: 19, color: '#000', fontFamily: FONT,
      formatter: i === 5 ? function (v) { return v.toFixed(1); } : function (v) { return String(v); }
    }
  });
  series.push({
    name: 'Actual data', type: 'line', xAxisIndex: i, yAxisIndex: i,
    data: actualSeries[i], showSymbol: false, symbol: 'none', silent: true, z: 2,
    lineStyle: { color: '#000', width: 1.3, type: [1.5, 1.5] }
  });
  series.push({
    name: 'Exchange rate shock component', type: 'line', xAxisIndex: i, yAxisIndex: i,
    data: shockSeries[i], showSymbol: false, symbol: 'none', silent: true, z: 3,
    lineStyle: { color: '#111', width: 1.6 },
    markLine: {
      silent: true, symbol: 'none', label: { show: false },
      lineStyle: { color: '#555', width: 1, type: 'solid' },
      data: [{ yAxis: 0 }]
    }
  });
  graphics.push({
    type: 'text', x: titlePos[i][0], y: titlePos[i][1], scaleX: 1.08,
    style: {
      text: panelTitles[i], font: '26px ' + FONT, fill: '#000',
      align: 'center', textAlign: 'center', verticalAlign: 'middle', textVerticalAlign: 'middle'
    }
  });
}

// yearly ticks 1914..1939, laid out on the same time scale as the plot box
for (var i = 0; i < 6; i++) {
  var b = boxes[i];
  grids.push({ left: b[0] + (1914 - 1912.6) * pxPerYear, top: b[1], width: 25 * pxPerYear, height: b[2], show: false });
  xAxes.push({
    type: 'value', gridIndex: 6 + i, position: 'bottom', offset: 2,
    min: 1914, max: 1939, interval: 1,
    axisLine: { show: false }, splitLine: { show: false },
    axisTick: { show: true, length: 5, lineStyle: { color: '#333', width: 1 } },
    axisLabel: { show: false }
  });
  yAxes.push(hiddenY(6 + i));
}
// decade ticks and labels 1920, 1930
for (var i = 0; i < 6; i++) {
  var b = boxes[i];
  grids.push({ left: b[0] + (1920 - 1912.6) * pxPerYear, top: b[1], width: 10 * pxPerYear, height: b[2], show: false });
  xAxes.push({
    type: 'value', gridIndex: 12 + i, position: 'bottom', offset: 2,
    min: 1920, max: 1930, interval: 10,
    axisLine: { show: false }, splitLine: { show: false },
    axisTick: { show: true, length: 10, lineStyle: { color: '#333', width: 1 } },
    axisLabel: {
      show: true, margin: 11, fontSize: 19, color: '#000', fontFamily: FONT,
      formatter: function (v) { return String(v); }
    }
  });
  yAxes.push(hiddenY(12 + i));
}

// legend at the bottom
graphics.push({ type: 'line', shape: { x1: 228, y1: 1322, x2: 262, y2: 1322 }, style: { stroke: '#111', lineWidth: 2.6, lineDash: [2.6, 2.4] } });
graphics.push({ type: 'line', shape: { x1: 225, y1: 1367, x2: 258, y2: 1367 }, style: { stroke: '#888', lineWidth: 4 } });
graphics.push({ type: 'text', x: 281, y: 1326, style: { text: 'Actual data', font: '32px ' + SERIF, fill: '#000', verticalAlign: 'middle', textVerticalAlign: 'middle' } });
graphics.push({ type: 'text', x: 275, y: 1368, style: { text: 'Exchange rate shock component', font: '32px ' + SERIF, fill: '#000', verticalAlign: 'middle', textVerticalAlign: 'middle' } });

var chart = echarts.init(document.getElementById('chart'), null, { renderer: 'canvas' });
chart.setOption({
  animation: false,
  backgroundColor: '#fff',
  grid: grids,
  xAxis: xAxes,
  yAxis: yAxes,
  series: series,
  graphic: graphics
});
</script>
</body>
</html>
